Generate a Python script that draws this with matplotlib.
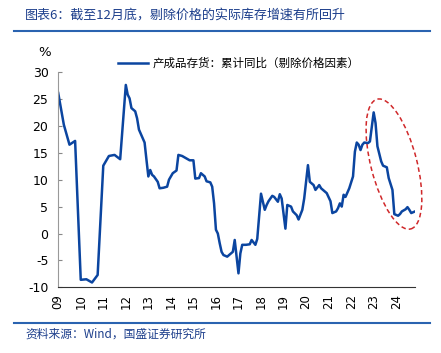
import numpy as np
import matplotlib
matplotlib.use("Agg")
from matplotlib import pyplot as plt
from matplotlib.patches import Ellipse
from matplotlib.transforms import IdentityTransform

plt.rcParams['font.family'] = ['Noto Sans CJK SC', 'DejaVu Sans']
plt.rcParams['axes.unicode_minus'] = False

# quarterly points until 2011, then monthly (no January for most years)
months = ['2009-01', '2009-04', '2009-07', '2009-10', '2010-01', '2010-04', '2010-07', '2010-10',
          '2011-01', '2011-04', '2011-07', '2011-10', '2012-01',
          '2012-02', '2012-03', '2012-04', '2012-06', '2012-07', '2012-08', '2012-10', '2012-11', '2012-12',
          '2013-01', '2013-02', '2013-03', '2013-04', '2013-06', '2013-07', '2013-09', '2013-11', '2013-12',
          '2014-02', '2014-04', '2014-05', '2014-07', '2014-09', '2014-11',
          '2015-01', '2015-02', '2015-04', '2015-05', '2015-07', '2015-08', '2015-10', '2015-11', '2015-12',
          '2016-01', '2016-02', '2016-03', '2016-04', '2016-05', '2016-07', '2016-08', '2016-10', '2016-11', '2016-12',
          '2017-01', '2017-02', '2017-03', '2017-05', '2017-07', '2017-08', '2017-10', '2017-11',
          '2018-01', '2018-03', '2018-04', '2018-05', '2018-07', '2018-08', '2018-10', '2018-11', '2018-12',
          '2019-02', '2019-03', '2019-05', '2019-06', '2019-08', '2019-09', '2019-11', '2019-12',
          '2020-02', '2020-03', '2020-05', '2020-06', '2020-08', '2020-09', '2020-10', '2020-12',
          '2021-02', '2021-03', '2021-05', '2021-06', '2021-07', '2021-08', '2021-09', '2021-10', '2021-12',
          '2022-02', '2022-03', '2022-04', '2022-05', '2022-06', '2022-07', '2022-08', '2022-10', '2022-11',
          '2023-01', '2023-02', '2023-03', '2023-05', '2023-06', '2023-08', '2023-09', '2023-10', '2023-11', '2023-12',
          '2024-02', '2024-03', '2024-04', '2024-06', '2024-07', '2024-08', '2024-09', '2024-11']
values = [26.1, 20.2, 16.5, 17.2, -8.6, -8.5, -9.1, -7.7,
          12.6, 14.4, 14.6, 13.8, 27.6,
          25.8, 25.1, 23.3, 22.7, 21.4, 19.3, 17.7, 16.9, 13.7,
          10.6, 11.8, 10.9, 10.6, 9.6, 8.4, 8.5, 8.7, 10.0,
          11.2, 11.7, 14.6, 14.4, 14.0, 13.6,
          13.6, 10.2, 10.3, 11.2, 10.6, 9.7, 9.5, 8.7, 5.6,
          0.7, 0.0, -1.8, -3.4, -4.0, -4.3, -4.0, -3.4, -1.2, -4.3,
          -7.4, -3.7, -2.1, -2.1, -2.0, -1.2, -2.1, -1.0,
          7.4, 4.4, 5.3, 6.0, 7.0, 6.8, 5.9, 7.3, 6.5,
          0.9, 5.3, 5.0, 4.1, 3.4, 2.6, 4.4, 6.5,
          12.7, 9.6, 9.0, 8.1, 9.0, 8.4, 8.1, 7.5,
          6.0, 3.8, 4.1, 4.7, 5.6, 5.0, 7.2, 6.8, 8.4,
          10.6, 15.2, 16.9, 16.5, 15.5, 16.5, 16.9, 16.8, 17.1,
          22.5, 20.5, 16.2, 13.4, 12.6, 12.3, 10.3, 9.2, 8.1, 3.6,
          3.3, 3.6, 4.1, 4.5, 4.9, 4.4, 3.8, 4.1]
years = list(range(2009, 2025))
year_labels = ['%02d' % (y % 100) for y in years]
series_name = '产成品存货：累计同比（剔除价格因素）'

x = np.array([int(m[:4]) + (int(m[5:]) - 1) / 12 for m in months])
y = np.array(values)

fig = plt.figure(figsize=(4.41, 3.53), dpi=100)
ax = fig.add_axes([0.132, 0.186, 0.809, 0.610])

ax.plot(x, y, color='#0b45a0', lw=1.8, label=series_name)
ax.set_xlim(x[0], x[-1])
ax.set_ylim(-10, 30)
ax.set_yticks(range(-10, 31, 5))
ax.set_xticks(years)
ax.set_xticklabels(year_labels, rotation=90, fontsize=8.5, family='DejaVu Sans')
ax.tick_params(axis='x', length=0, pad=5)
ax.tick_params(axis='y', direction='in', length=3, color='#888888', labelsize=9, pad=7)
for t in ax.get_yticklabels():
    t.set_family('DejaVu Sans')
for s in ['top', 'right']:
    ax.spines[s].set_visible(False)
ax.spines['left'].set_color('#999999')
ax.spines['bottom'].set_color('#333333')

ax.legend(loc='lower left', bbox_to_anchor=(0.167, 1.01), frameon=False, fontsize=8.3,
          handlelength=2.6, handletextpad=0.4, borderaxespad=0, borderpad=0)
fig.text(38 / 441, 1 - 52 / 353, '%', fontsize=9.5, ha='left', va='center', family='DejaVu Sans')

# red dashed ellipse around the recent decline
cx, cy = ax.transData.transform((2023.9, 12.9))
ax.add_patch(Ellipse((cx, cy), 46, 134, angle=14.5, transform=IdentityTransform(),
                     fill=False, ec='#d0282a', ls=(0, (3, 2)), lw=1.1, clip_on=False))

# title, rules and source
fig.text(25 / 441, 1 - 15 / 353, '图表6：截至12月底，剔除价格的实际库存增速有所回升',
         fontsize=9.4, color='#1d3f8c', ha='left', va='center', style='italic')
fig.add_artist(plt.Line2D([14 / 441, 430 / 441], [1 - 31 / 353] * 2, color='#2a63b0', lw=1.5))
fig.add_artist(plt.Line2D([14 / 441, 430 / 441], [1 - 323 / 353] * 2, color='#2a63b0', lw=1.5))
fig.text(25 / 441, 1 - 334 / 353, '资料来源：Wind，国盛证券研究所',
         fontsize=8.5, color='#1d3f8c', ha='left', va='center', style='italic')

fig.savefig('out.png', dpi=100)
